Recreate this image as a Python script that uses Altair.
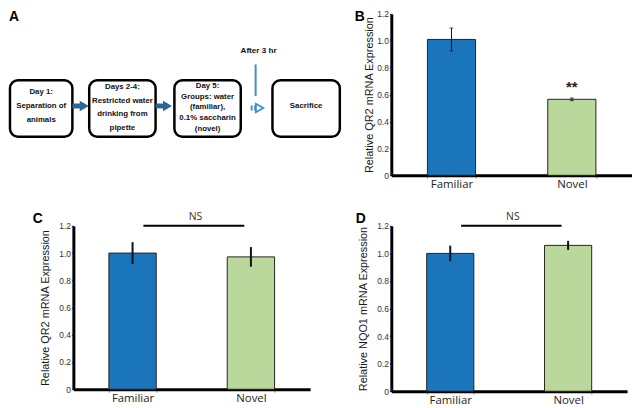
import altair as alt
import pandas as pd

# ---------------- data ----------------
cats = ["Familiar", "Novel"]
colors = ["#1b75bb", "#bad89b"]
y_ticks = [0, 0.2, 0.4, 0.6, 0.8, 1.0, 1.2]

b_mean = [1.01, 0.565]
b_err = [0.085, 0.01]
b_marks = ["", "**"]

c_mean = [1.0, 0.972]
c_err = [0.08, 0.072]

d_mean = [1.0, 1.058]
d_err = [0.056, 0.033]

ns_level = 1.2

# flow diagram (panel A)
box_lines = [
    ["Day 1:", "Separation  of", "animals"],
    ["Days 2-4:", "Restricted water", "drinking from", "pipette"],
    ["Day 5:", "Groups: water", "(familiar),", "0.1% saccharin", "(novel)"],
    ["Sacrifice"],
]
box_left = [9, 89, 175, 274]
box_right = [72, 156, 242, 342]
box_top = 79
box_bottom = 136
box_line_gap = [14, 13.6, 10.8, 14]
box_text_mid = [105, 106.6, 106.5, 105]
arrow_start = [72, 156]
arrow_end = [84, 168]
arrow_y = 105
wait_line_x = 257
wait_line_y = [63, 95]
wait_text = "After 3 hr"
wait_text_pos = [260, 50]
hollow_arrow = [252, 261, 107]

SANS = "Liberation Sans, Arial, sans-serif"

# ---------------- panel A ----------------
xs = alt.Scale(domain=[73, 312], nice=False, zero=False)
ys = alt.Scale(domain=[12, 175], nice=False, zero=False, reverse=True)


def X(f):
    return alt.X(f, type="quantitative", scale=xs, axis=None)


def Y(f):
    return alt.Y(f, type="quantitative", scale=ys, axis=None)


boxes_df = pd.DataFrame({"x0": box_left, "x1": box_right,
                         "y0": [box_top] * 4, "y1": [box_bottom] * 4})
rows = []
for i, lines in enumerate(box_lines):
    n = len(lines)
    cx = (box_left[i] + box_right[i]) / 2
    for j, t in enumerate(lines):
        rows.append({"x": cx, "y": box_text_mid[i] + (j - (n - 1) / 2) * box_line_gap[i], "t": t})
box_text_df = pd.DataFrame(rows)
arrows_df = pd.DataFrame({"x0": arrow_start, "x1": arrow_end, "y": [arrow_y] * 2})

boxes = alt.Chart(boxes_df).mark_rect(
    cornerRadius=8, fill="white", stroke="black", strokeWidth=2.5
).encode(x=X("x0"), x2="x1", y=Y("y0"), y2="y1")

box_text = alt.Chart(box_text_df).mark_text(
    font=SANS, fontSize=7.9, fontWeight="bold", color="#111", baseline="middle"
).encode(x=X("x"), y=Y("y"), text="t:N")

shafts = alt.Chart(arrows_df).mark_rule(color="#28659a", strokeWidth=5).encode(
    x=X("x0"), x2="x1", y=Y("y"))
heads = alt.Chart(arrows_df).mark_point(
    shape="triangle-right", filled=True, color="#28659a", size=110, opacity=1
).encode(x=X("x1"), y=Y("y"))

wait_df = pd.DataFrame({"x": [wait_line_x], "y0": [wait_line_y[0]], "y1": [wait_line_y[1]],
                        "tx": [wait_text_pos[0]], "ty": [wait_text_pos[1]], "t": [wait_text]})
wait_line = alt.Chart(wait_df).mark_rule(color="#3d8fd0", strokeWidth=2).encode(
    x=X("x"), y=Y("y0"), y2="y1")
wait_label = alt.Chart(wait_df).mark_text(
    font=SANS, fontSize=8.2, fontWeight="bold", color="#111"
).encode(x=X("tx"), y=Y("ty"), text="t:N")

ha_df = pd.DataFrame({"x0": [hollow_arrow[0]], "x1": [hollow_arrow[1] - 3],
                      "xh": [hollow_arrow[1]], "y": [hollow_arrow[2]]})
ha_shaft = alt.Chart(ha_df).mark_rule(color="#3d8fd0", strokeWidth=5, strokeDash=[2, 1.5]).encode(
    x=X("x0"), x2="x1", y=Y("y"))
ha_head = alt.Chart(ha_df).mark_point(
    shape="triangle-right", filled=False, color="#3d8fd0", size=75, strokeWidth=1.8, opacity=1
).encode(x=X("xh"), y=Y("y"))

letter_a = alt.Chart(pd.DataFrame({"x": [8], "y": [8], "t": ["A"]})).mark_text(
    font=SANS, fontSize=14, fontWeight="bold", align="left", baseline="top", color="black"
).encode(x=X("x"), y=Y("y"), text="t:N")

panel_a = alt.layer(boxes, shafts, heads, wait_line, ha_shaft, ha_head,
                    box_text, wait_label, letter_a).properties(width=239, height=163)


# ---------------- bar panels ----------------
def bar_panel(mean, err, width, height, title, title_x, letter, lx, ly,
              marks=None, ns=False, caps=False, err_w=1.5):
    df = pd.DataFrame({
        "cond": cats, "mean": mean,
        "lo": [m - e for m, e in zip(mean, err)],
        "hi": [m + e for m, e in zip(mean, err)],
        "mark": marks if marks else [""] * len(cats),
    })
    xscale = alt.Scale(domain=cats, paddingInner=0.6, paddingOuter=0.3)
    xaxis = alt.Axis(title=None, labelAngle=0, labelFont="Open Sans", labelFontSize=11.5,
                     labelColor="#222", labelPadding=0, tickBand="extent", tickSize=3,
                     tickColor="#999", domainColor="black", domainWidth=3)
    yscale = alt.Scale(domain=[0, 1.2], nice=False, zero=True)
    yaxis = alt.Axis(values=y_ticks, title=title, titleX=title_x, titleBaseline="middle",
                     titleFont=SANS, titleFontSize=11, titleFontWeight="normal",
                     titleColor="#1a1a1a",
                     labelExpr="datum.value == 0 ? '0' : format(datum.value, '.1f')",
                     labelFont=SANS, labelFontSize=8.5, labelColor="#333", labelPadding=1,
                     tickSize=2, tickColor="#444", domainColor="black", domainWidth=3,
                     grid=False)

    def xe(f="cond", bp=None):
        if bp is None:
            return alt.X(f, type="nominal", sort=cats, scale=xscale, axis=xaxis)
        return alt.X(f, type="nominal", sort=cats, scale=xscale, axis=xaxis, bandPosition=bp)

    def ye(f):
        return alt.Y(f, type="quantitative", scale=yscale, axis=yaxis)

    base = alt.Chart(df)
    layers = [
        base.mark_bar(stroke="#222", strokeWidth=1).encode(
            x=xe(), y=ye("mean"),
            color=alt.Color("cond:N", scale=alt.Scale(domain=cats, range=colors), legend=None)),
        base.mark_rule(color="#111", strokeWidth=err_w).encode(x=xe(), y=ye("lo"), y2="hi"),
    ]
    if caps:
        layers.append(base.mark_tick(color="#111", size=4, thickness=1).encode(x=xe(), y=ye("lo")))
        layers.append(base.mark_tick(color="#111", size=4, thickness=1).encode(x=xe(), y=ye("hi")))
    if marks:
        layers.append(base.mark_text(fontSize=15, fontWeight="bold", font=SANS, color="#222",
                                     dy=-11).encode(x=xe(), y=ye("hi"), text="mark:N"))
    if ns:
        ns_df = pd.DataFrame({"a": [cats[0]], "b": [cats[1]], "y": [ns_level], "t": ["NS"]})
        nb = alt.Chart(ns_df)
        layers.append(nb.mark_rule(color="black", strokeWidth=2).encode(
            x=xe("a", 0.73), x2=alt.X2("b", bandPosition=0.36), y=ye("y")))
        layers.append(nb.mark_text(font="Open Sans", fontSize=10.5, color="#333", dy=-9, dx=-32).encode(
            x=xe("b", 0), y=ye("y"), text="t:N"))
    layers.append(alt.Chart(pd.DataFrame({"t": [letter]})).mark_text(
        font=SANS, fontSize=14, fontWeight="bold", align="left", baseline="top", color="black"
    ).encode(x=alt.value(lx), y=alt.value(ly), text="t:N"))
    return alt.layer(*layers).properties(width=width, height=height)


panel_b = bar_panel(b_mean, b_err, 243, 163, "Relative QR2 mRNA Expression", -22,
                    "B", -37, -4, marks=b_marks, caps=True, err_w=1)
panel_c = bar_panel(c_mean, c_err, 239, 165, "Relative QR2 mRNA Expression", -28,
                    "C", -41, -14, ns=True, err_w=2)
panel_d = bar_panel(d_mean, d_err, 238, 167, "Relative NQO1 mRNA Expression", -28,
                    "D", -36, -14, ns=True, err_w=2)

chart = alt.concat(
    panel_a, panel_b, panel_c, panel_d,
    columns=2, spacing={"row": 51, "column": 82}, bounds="flush", align="each"
).configure_view(stroke=None).properties(padding=0)

chart.save("out.html", embed_options={"renderer": "svg", "actions": False})
